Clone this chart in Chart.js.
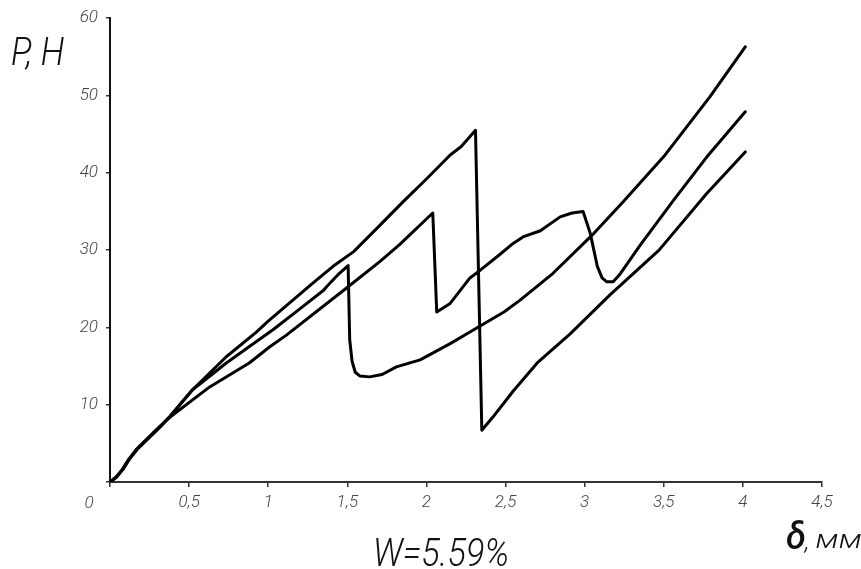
<!DOCTYPE html>
<html>
<head>
<meta charset="utf-8">
<script src="https://cdn.jsdelivr.net/npm/chart.js@4.4.1/dist/chart.umd.min.js"></script>
<style>
  html, body { margin: 0; padding: 0; background: #fff; }
  #wrap { width: 861px; height: 569px; position: relative; }
</style>
</head>
<body>
<div id="wrap"><canvas id="c" width="861" height="569"></canvas></div>
<script>
// Load–deflection curves of three specimens, δ in mm, P in N
const sample1Delta = [0, 0.04, 0.08, 0.12, 0.17, 0.24, 0.31, 0.38, 0.52, 0.735, 0.925, 1.0, 1.28, 1.41, 1.54, 1.71, 1.85, 2.0, 2.15, 2.22, 2.31,
  2.35, 2.42, 2.55, 2.70, 2.91, 3.16, 3.47, 3.77, 4.015];
const sample1Load  = [0, 0.6, 1.6, 2.9, 4.2, 5.6, 7.0, 8.5, 11.9, 16.2, 19.4, 20.8, 25.7, 27.9, 29.8, 33.3, 36.2, 39.2, 42.3, 43.4, 45.5,
  6.7, 8.4, 11.8, 15.4, 19.2, 24.2, 30.0, 37.3, 42.7];

const sample2Delta = [0, 0.04, 0.08, 0.12, 0.17, 0.24, 0.31, 0.38, 0.63, 0.88, 1.01, 1.115, 1.495, 1.705, 1.83, 2.04,
  2.065, 2.15, 2.275, 2.34, 2.45, 2.55, 2.61, 2.72, 2.845, 2.92, 2.99, 3.035, 3.08, 3.11, 3.14, 3.18, 3.22, 3.35, 3.56, 3.77, 4.015];
const sample2Load  = [0, 0.7, 1.7, 3.0, 4.3, 5.7, 7.1, 8.4, 12.3, 15.4, 17.5, 19.0, 25.1, 28.5, 30.7, 34.8,
  22.0, 23.1, 26.4, 27.4, 29.2, 30.9, 31.7, 32.5, 34.3, 34.8, 35.0, 32.2, 27.9, 26.4, 25.9, 25.9, 26.8, 30.6, 36.4, 42.0, 47.9];

const sample3Delta = [0, 0.04, 0.08, 0.12, 0.17, 0.24, 0.31, 0.38, 0.52, 0.735, 1.03, 1.2, 1.35, 1.37, 1.45, 1.505,
  1.515, 1.53, 1.55, 1.58, 1.64, 1.72, 1.81, 1.96, 2.15, 2.275, 2.49, 2.59, 2.80, 3.06, 3.245, 3.50, 3.79, 4.015];
const sample3Load  = [0, 0.6, 1.6, 2.9, 4.2, 5.6, 7.0, 8.5, 11.9, 15.4, 19.7, 22.4, 24.8, 25.3, 27.0, 28.0,
  18.4, 15.6, 14.2, 13.7, 13.6, 13.9, 14.9, 15.8, 17.9, 19.4, 22.0, 23.5, 27.0, 32.2, 36.3, 42.1, 49.8, 56.3];

// Axis ticks
const deltaTicks = [0, 0.5, 1, 1.5, 2, 2.5, 3, 3.5, 4, 4.5];
const deltaTickLabels = ['', '0,5', '1', '1,5', '2', '2,5', '3', '3,5', '4', '4,5'];
const loadTicks = [0, 10, 20, 30, 40, 50, 60];
const loadTickLabels = ['', '10', '20', '30', '40', '50', '60'];

const originLabel = '0';
const loadTitle = 'Р, Н';
const deltaSymbol = 'δ';
const deltaComma = ',';
const deltaUnit = 'мм';
const moistureCaption = 'W=5.59%';

function toPoints(xs, ys) {
  return xs.map((x, i) => ({ x: x, y: ys[i] }));
}

const curveStyle = {
  showLine: true,
  pointRadius: 0,
  borderColor: '#000',
  borderWidth: 3,
  tension: 0,
  fill: false,
  borderJoinStyle: 'round',
  borderCapStyle: 'round'
};

const tickFont = { family: 'Roboto', style: 'italic', weight: 300, size: 17 };

// text drawn with an optional horizontal stretch
function stretchedText(ctx, text, x, y, font, sx, align) {
  ctx.save();
  ctx.font = font;
  ctx.textAlign = align || 'left';
  ctx.translate(x, y);
  ctx.scale(sx, 1);
  ctx.fillText(text, 0, 0);
  const w = ctx.measureText(text).width * sx;
  ctx.restore();
  return w;
}

const captions = {
  id: 'captions',
  afterDraw(chart) {
    const ctx = chart.ctx;
    const area = chart.chartArea;
    ctx.save();
    ctx.textBaseline = 'alphabetic';
    // origin label
    ctx.fillStyle = '#444';
    stretchedText(ctx, originLabel, area.left - 21, area.bottom + 26, 'italic 300 17px Roboto', 1, 'center');
    // vertical axis title
    ctx.fillStyle = '#111';
    stretchedText(ctx, loadTitle, 11, 65, 'italic 300 38px Roboto', 0.9, 'left');
    // horizontal axis title
    const w1 = stretchedText(ctx, deltaSymbol, 786, 549, 'italic 500 36px Roboto', 1, 'left');
    const w2 = stretchedText(ctx, deltaComma, 786 + w1 - 1, 549, 'italic 300 26px Roboto', 1, 'left');
    stretchedText(ctx, deltaUnit, 786 + w1 + w2 + 5, 548, 'italic 300 25px Roboto', 1.3, 'left');
    // caption under the plot
    stretchedText(ctx, moistureCaption, 441, 566, 'italic 300 39px Roboto', 0.88, 'center');
    ctx.restore();
  }
};

new Chart(document.getElementById('c'), {
  type: 'scatter',
  data: {
    datasets: [
      Object.assign({ label: '1', data: toPoints(sample1Delta, sample1Load) }, curveStyle),
      Object.assign({ label: '2', data: toPoints(sample2Delta, sample2Load) }, curveStyle),
      Object.assign({ label: '3', data: toPoints(sample3Delta, sample3Load) }, curveStyle)
    ]
  },
  options: {
    responsive: false,
    animation: false,
    layout: { padding: { left: 0, top: 18, right: 39, bottom: 57 } },
    plugins: { legend: { display: false }, tooltip: { enabled: false } },
    scales: {
      x: {
        type: 'linear',
        position: 'bottom',
        min: 0,
        max: 4.5,
        afterBuildTicks: (scale) => { scale.ticks = deltaTicks.map(v => ({ value: v })); },
        afterFit: (scale) => { scale.height = 30; },
        border: { display: true, color: '#333', width: 2 },
        grid: { drawOnChartArea: false, drawTicks: true, tickLength: 5, color: '#333', lineWidth: 1.5 },
        ticks: {
          font: tickFont,
          color: '#444',
          padding: 6,
          maxRotation: 0,
          autoSkip: false,
          callback: (v) => deltaTickLabels[deltaTicks.indexOf(v)]
        }
      },
      y: {
        type: 'linear',
        position: 'left',
        min: 0,
        max: 60,
        afterBuildTicks: (scale) => { scale.ticks = loadTicks.map(v => ({ value: v })); },
        afterFit: (scale) => { scale.width = 110; },
        border: { display: true, color: '#111', width: 2 },
        grid: { drawOnChartArea: false, drawTicks: true, tickLength: 4, color: '#333', lineWidth: 1.5 },
        ticks: {
          font: tickFont,
          color: '#444',
          padding: 8,
          autoSkip: false,
          callback: (v) => loadTickLabels[loadTicks.indexOf(v)]
        }
      }
    }
  },
  plugins: [captions]
});
</script>
</body>
</html>
